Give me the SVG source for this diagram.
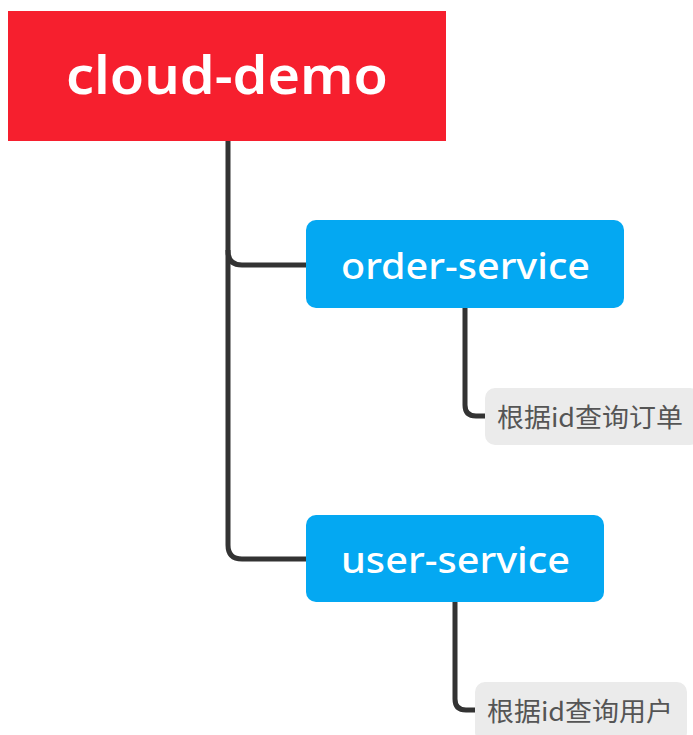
<svg xmlns="http://www.w3.org/2000/svg" width="693" height="735" viewBox="0 0 693 735">
<style>
.conn{fill:none;stroke:#333333;stroke-width:5;stroke-linecap:butt;stroke-linejoin:round}
.main{fill:#FFFFFF;font-family:"Noto Sans","Open Sans","Liberation Sans",sans-serif}
.leaf{fill:#EBEBEB}
.leaft{fill:#555555;font-family:"Noto Sans CJK SC","Noto Sans",sans-serif;font-size:26px}
.svc{fill:#04A8F2}
</style>
<rect width="693" height="735" fill="#FFFFFF"/>
<g id="connectors">
<path class="conn" d="M228,141 V251 Q228,265 242,265 H306"/>
<path class="conn" d="M228,250 V545 Q228,559 242,559 H306"/>
<path class="conn" d="M465,308 V405 Q465,416 476,416 H486"/>
<path class="conn" d="M455,602 V699 Q455,710 466,710 H476"/>
</g>
<g id="cloud-demo">
<rect x="8" y="11" width="438" height="130" fill="#F61F2E"/>
<text class="main" x="66" y="94" font-size="52" font-weight="600" textLength="322" lengthAdjust="spacingAndGlyphs">cloud-demo</text>
</g>
<g id="order-service">
<rect class="svc" x="306" y="220" width="318" height="88" rx="10"/>
<text class="main" x="341" y="279" font-size="37" font-weight="500" textLength="249" lengthAdjust="spacingAndGlyphs">order-service</text>
</g>
<g id="order-leaf">
<rect class="leaf" x="485" y="388" width="215" height="57" rx="10"/>
<text class="leaft" x="497" y="427" textLength="186" lengthAdjust="spacingAndGlyphs">根据id查询订单</text>
</g>
<g id="user-service">
<rect class="svc" x="306" y="515" width="298" height="87" rx="10"/>
<text class="main" x="341" y="573" font-size="37" font-weight="500" textLength="229" lengthAdjust="spacingAndGlyphs">user-service</text>
</g>
<g id="user-leaf">
<rect class="leaf" x="475" y="682" width="212" height="60" rx="10"/>
<text class="leaft" x="487" y="721" textLength="186" lengthAdjust="spacingAndGlyphs">根据id查询用户</text>
</g>
</svg>
